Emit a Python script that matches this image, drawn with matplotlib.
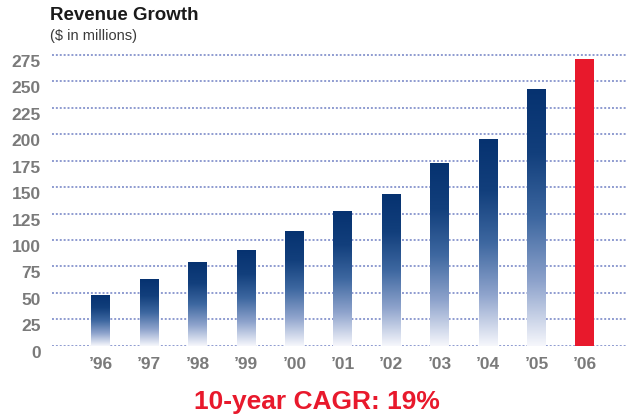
import numpy as np
import matplotlib
matplotlib.use('Agg')
import matplotlib.pyplot as plt
from matplotlib.colors import LinearSegmentedColormap

# Revenue data ($ in millions)
years = ['\u201996', '\u201997', '\u201998', '\u201999', '\u201900', '\u201901',
         '\u201902', '\u201903', '\u201904', '\u201905', '\u201906']
revenue = [48, 63, 79, 90, 108, 127, 143, 173, 195, 243, 271]
y_ticks = [0, 25, 50, 75, 100, 125, 150, 175, 200, 225, 250, 275]

plt.rcParams['font.family'] = ['Liberation Sans', 'DejaVu Sans']

fig = plt.figure(figsize=(6.26, 4.18), dpi=100)
ax = fig.add_axes([0.083, 0.173, 0.917, 0.708])

blue_fade = LinearSegmentedColormap.from_list(
    'fade', ['#f6f7fc', '#8ea3cc', '#3d67a0', '#123f7c', '#063270'])
grad = np.linspace(0, 1, 256).reshape(-1, 1)

bar_w = 0.39
for i, v in enumerate(revenue):
    if i == len(revenue) - 1:
        ax.bar(i, v, width=bar_w, color='#e8192c', zorder=3)
    else:
        ax.imshow(grad, extent=[i - bar_w / 2, i + bar_w / 2, 0, v],
                  origin='lower', aspect='auto', cmap=blue_fade, zorder=3)

for t in y_ticks:
    ax.axhline(t, color='#8e9bd0', lw=1.4, ls=(0, (1, 1)), zorder=1)

ax.set_xlim(-1.01, 10.85)
ax.set_ylim(0, 280)
ax.set_xticks(range(len(years)))
ax.set_xticklabels(years)
ax.set_yticks(y_ticks)
for s in ax.spines.values():
    s.set_visible(False)
ax.tick_params(length=0, labelsize=12.5, labelcolor='#7a7a7a')
ax.tick_params(axis='y', pad=8)
ax.tick_params(axis='x', pad=8)
for lbl in ax.get_yticklabels():
    lbl.set_verticalalignment('top')
for lbl in ax.get_xticklabels() + ax.get_yticklabels():
    lbl.set_fontweight('bold')

fig.text(0.080, 0.962, 'Revenue Growth', fontsize=13.5, fontweight='bold',
         color='#1a1a1a', ha='left', va='center')
fig.text(0.080, 0.913, '($ in millions)', fontsize=10.5, color='#3a3a3a',
         ha='left', va='center')
fig.text(0.506, 0.038, '10-year CAGR: 19%',
         family=['Liberation Sans Narrow', 'Liberation Sans', 'DejaVu Sans'],
         fontsize=19, fontweight='bold', color='#e8192c', ha='center', va='center')

fig.savefig('out.png', dpi=100)
